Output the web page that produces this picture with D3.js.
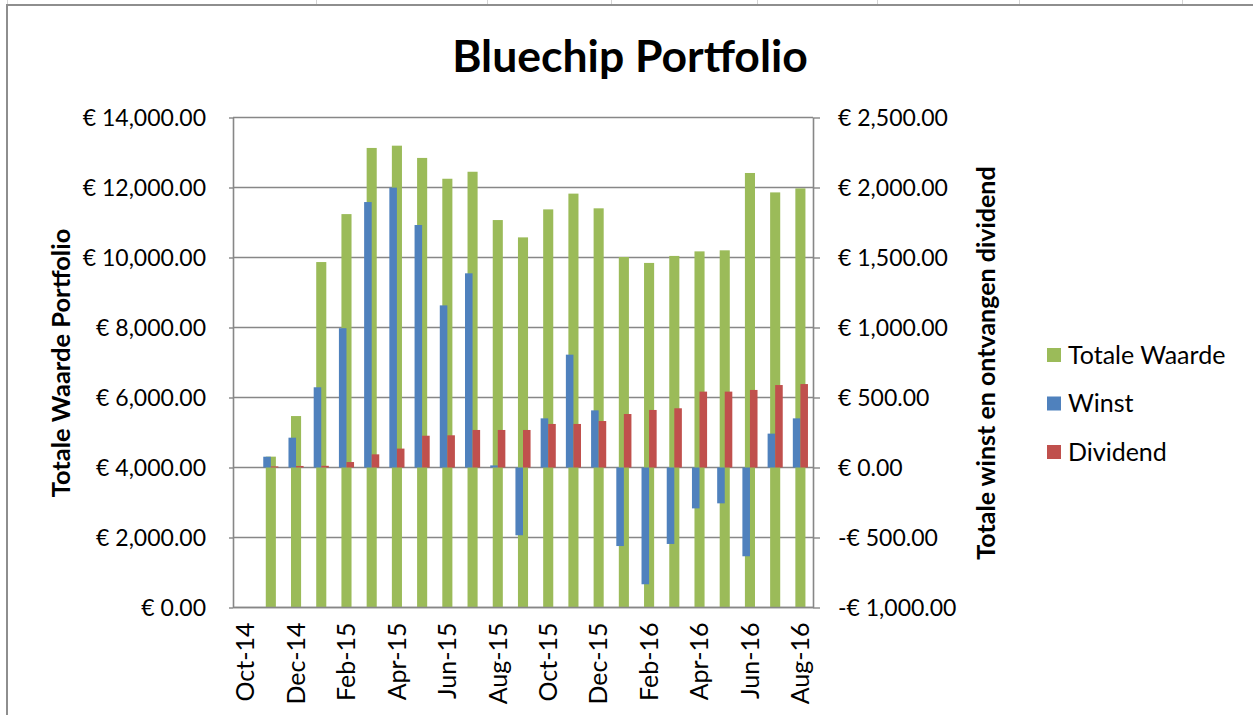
<!DOCTYPE html>
<html>
<head>
<meta charset="utf-8">
<script src="https://cdn.jsdelivr.net/npm/d3@7"></script>
<style>
  body { margin: 0; background: #fff; }
  svg { display: block; }
  svg text { font-family: Lato, sans-serif; }
</style>
</head>
<body>
<div id="chart"></div>
<script>
// Months on the date axis (Oct-14 has no data)
const months = ["Oct-14", "Nov-14", "Dec-14", "Jan-15", "Feb-15", "Mar-15", "Apr-15", "May-15",
    "Jun-15", "Jul-15", "Aug-15", "Sep-15", "Oct-15", "Nov-15", "Dec-15", "Jan-16",
    "Feb-16", "Mar-16", "Apr-16", "May-16", "Jun-16", "Jul-16", "Aug-16"];
const xTickLabels = ["Oct-14", "Dec-14", "Feb-15", "Apr-15", "Jun-15", "Aug-15",
    "Oct-15", "Dec-15", "Feb-16", "Apr-16", "Jun-16", "Aug-16"];

const totaleWaarde = [null, 4310, 5470, 9870, 11240, 13130, 13195, 12845, 12250, 12450, 11070,
    10575, 11375, 11825, 11405, 10015, 9845, 10045, 10175, 10205, 12415, 11860, 11975];
const winst = [null, 77, 213, 573, 995, 1896, 1999, 1732, 1158, 1387, 15,
    -484, 351, 806, 408, -561, -834, -546, -292, -256, -634, 242, 351];
const dividend = [null, 8, 11, 12, 39, 94, 135, 227, 230, 268, 268,
    268, 311, 311, 332, 382, 411, 423, 542, 542, 554, 589, 596];

const leftTicks = [0, 2000, 4000, 6000, 8000, 10000, 12000, 14000];
const rightTicks = [-1000, -500, 0, 500, 1000, 1500, 2000, 2500];

const seriesNames = ["Totale Waarde", "Winst", "Dividend"];
const colors = { "Totale Waarde": "#9BBB59", "Winst": "#4F81BD", "Dividend": "#C0504D" };

const width = 1253, height = 715;
const margin = { top: 117.5, right: 440, bottom: 107.5, left: 233 };
const innerWidth = width - margin.left - margin.right;
const innerHeight = height - margin.top - margin.bottom;
const gridColor = "#878787";

const svg = d3.select("#chart")
    .append("svg")
    .attr("width", width)
    .attr("height", height);

// spreadsheet cell lines peeking above the chart, and the chart frame
[7, 316, 487, 611, 757, 877, 1019, 1182].forEach(x => {
    svg.append("line")
        .attr("x1", x + 0.5).attr("x2", x + 0.5)
        .attr("y1", 0).attr("y2", 5)
        .attr("stroke", "#d4d4d4");
});
svg.append("path")
    .attr("d", `M7,${height} V5 H${width}`)
    .attr("fill", "none")
    .attr("stroke", "#8e8e8e")
    .attr("stroke-width", 2);

const innerChart = svg.append("g")
    .attr("transform", `translate(${margin.left}, ${margin.top})`);

// scales work in page coordinates
const x = d3.scaleBand().domain(months).range([margin.left, margin.left + innerWidth]);
const yL = d3.scaleLinear().domain([0, 14000]).range([margin.top + innerHeight, margin.top]);
const yR = d3.scaleLinear().domain([-1000, 2500]).range([margin.top + innerHeight, margin.top]);
const bw = x.bandwidth();
const plotLeft = margin.left, plotRight = margin.left + innerWidth, plotBottom = margin.top + innerHeight;

const euro = v => (v < 0 ? "-€ " : "€ ") + d3.format(",.2f")(Math.abs(v));

// Gridlines
svg.selectAll(".grid")
    .data(leftTicks)
    .join("line")
    .attr("class", "grid")
    .attr("x1", plotLeft)
    .attr("x2", plotRight)
    .attr("y1", d => yL(d))
    .attr("y2", d => yL(d))
    .attr("stroke", gridColor)
    .attr("stroke-width", 1.4);

// Totale Waarde on primary axis
svg.selectAll(".bar-waarde")
    .data(months.map((m, i) => ({ m, v: totaleWaarde[i] })).filter(d => d.v != null))
    .join("rect")
    .attr("class", "bar-waarde")
    .attr("x", d => x(d.m) + bw * 0.3)
    .attr("width", bw * 0.4)
    .attr("y", d => yL(d.v))
    .attr("height", d => yL(0) - yL(d.v))
    .attr("fill", colors["Totale Waarde"]);

// Winst and Dividend clustered on secondary axis
[{ key: "Winst", values: winst, offset: 0.2 },
 { key: "Dividend", values: dividend, offset: 0.5 }].forEach(s => {
    svg.selectAll(".bar-" + s.key)
        .data(months.map((m, i) => ({ m, v: s.values[i] })).filter(d => d.v != null))
        .join("rect")
        .attr("class", "bar-" + s.key)
        .attr("x", d => x(d.m) + bw * s.offset)
        .attr("width", bw * 0.3)
        .attr("y", d => yR(Math.max(d.v, 0)))
        .attr("height", d => Math.abs(yR(d.v) - yR(0)))
        .attr("fill", colors[s.key]);
});

// Axes (lines from d3 axes, labels placed with the same scales)
const leftAxis = svg.append("g")
    .attr("transform", `translate(${plotLeft}, 0)`)
    .call(d3.axisLeft(yL).tickValues(leftTicks).tickFormat("").tickSize(4).tickSizeOuter(0));
const rightAxis = svg.append("g")
    .attr("transform", `translate(${plotRight}, 0)`)
    .call(d3.axisRight(yR).tickValues(rightTicks).tickFormat("").tickSize(7).tickSizeOuter(0));
svg.append("line")
    .attr("x1", plotLeft).attr("x2", plotRight)
    .attr("y1", plotBottom).attr("y2", plotBottom)
    .attr("stroke", gridColor).attr("stroke-width", 1.4);

[leftAxis, rightAxis].forEach(a => {
    a.select(".domain").attr("stroke", gridColor).attr("stroke-width", 1.6);
    a.selectAll(".tick line").attr("stroke", gridColor).attr("stroke-width", 1.4);
    a.selectAll(".tick text").remove();
});

svg.selectAll(".ylabel-left")
    .data(leftTicks)
    .join("text")
    .attr("class", "ylabel-left")
    .attr("x", plotLeft - 27)
    .attr("y", d => yL(d))
    .attr("dy", "0.35em")
    .attr("text-anchor", "end")
    .attr("font-size", 23)
    .text(euro);

svg.selectAll(".ylabel-right")
    .data(rightTicks)
    .join("text")
    .attr("class", "ylabel-right")
    .attr("x", plotRight + 25)
    .attr("y", d => yR(d))
    .attr("dy", "0.35em")
    .attr("font-size", 23)
    .text(euro);

// x labels, rotated
svg.selectAll(".xlabel")
    .data(xTickLabels)
    .join("text")
    .attr("class", "xlabel")
    .attr("x", d => x(d) + bw / 2)
    .attr("y", plotBottom + 15)
    .attr("transform", d => `rotate(-90, ${x(d) + bw / 2}, ${plotBottom + 15})`)
    .attr("text-anchor", "end")
    .attr("dy", "0.35em")
    .attr("font-size", 25)
    .text(d => d);

// Axis titles
svg.append("text")
    .attr("x", 61).attr("y", 363)
    .attr("transform", "rotate(-90, 61, 363)")
    .attr("text-anchor", "middle")
    .attr("dy", "0.35em")
    .attr("font-size", 25.5)
    .attr("font-weight", "bold")
    .text("Totale Waarde Portfolio");

svg.append("text")
    .attr("x", 986).attr("y", 363)
    .attr("transform", "rotate(-90, 986, 363)")
    .attr("text-anchor", "middle")
    .attr("dy", "0.35em")
    .attr("font-size", 25)
    .attr("font-weight", "bold")
    .text("Totale winst en ontvangen dividend");

// Chart title
svg.append("text")
    .attr("x", 630)
    .attr("y", 72)
    .attr("text-anchor", "middle")
    .attr("font-size", 44.5)
    .attr("font-weight", "bold")
    .text("Bluechip Portfolio");

// Legend
const legend = svg.append("g")
    .attr("transform", "translate(1047, 355)");
seriesNames.forEach((name, i) => {
    const row = legend.append("g")
        .attr("transform", `translate(0, ${i * 48.5})`);
    row.append("rect")
        .attr("y", -7)
        .attr("width", 14)
        .attr("height", 14)
        .attr("fill", colors[name]);
    row.append("text")
        .attr("x", 21)
        .attr("dy", "0.35em")
        .attr("font-size", 25)
        .text(name);
});
</script>
</body>
</html>
